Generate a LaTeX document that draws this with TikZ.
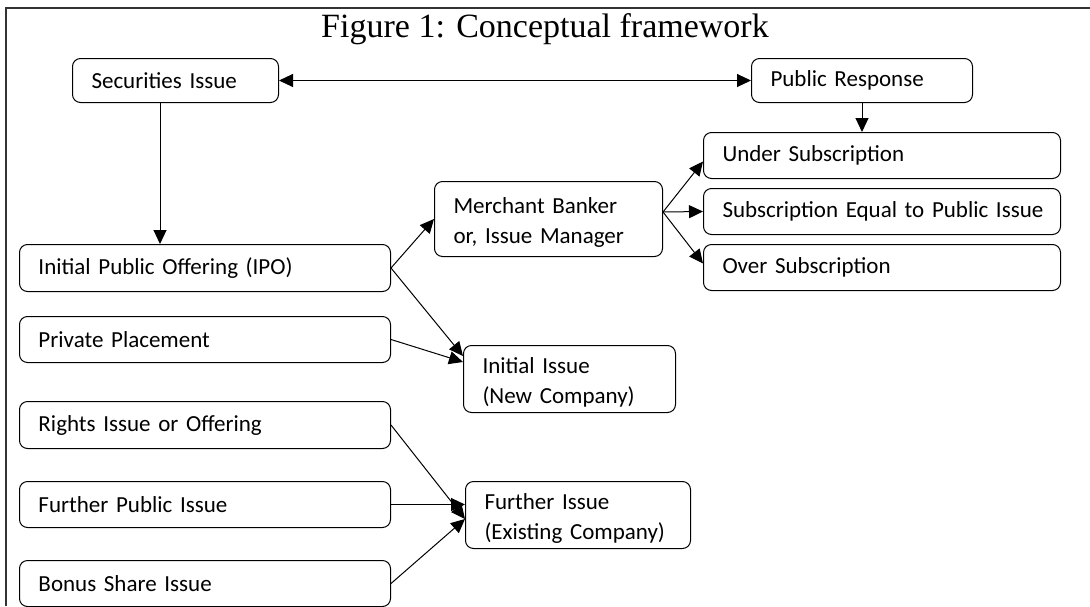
\documentclass[tikz,border=0pt]{standalone}
\usepackage{fontspec}
\setmainfont{Carlito}
\newfontfamily\titlefont{Liberation Serif}
\usetikzlibrary{arrows.meta}
\begin{document}
\begin{tikzpicture}[x=1pt,y=-1pt,
  box/.style={draw, line width=1pt, rounded corners=8pt, anchor=north west, align=left,
    inner xsep=0pt, inner ysep=0pt, font=\fontsize{23}{30}\selectfont},
  tip/.tip={Triangle[length=14pt,width=13pt]},
  arr/.style={line width=1pt, -tip},
  frameline/.style={line width=2pt, draw=black!80}]
\useasboundingbox (0,0) rectangle (1090,606);
\draw[frameline] (6,606) -- (6,8) -- (1090,8);
\node[font=\titlefont\fontsize{34}{38}\selectfont] (title) at (545,29) {Figure 1: Conceptual framework};
% boxes
\node[box, minimum width=206pt, minimum height=44pt, text width=206pt] (sec) at (72,58) {\hspace*{19pt}Securities Issue};
\node[box, minimum width=221pt, minimum height=44pt, text width=221pt] (pub) at (751,58) {\hspace*{19pt}Public Response};
\node[box, minimum width=357pt, minimum height=46pt, text width=357pt] (under) at (703,132) {\hspace*{19pt}Under Subscription};
\node[box, minimum width=357pt, minimum height=46pt, text width=357pt] (equal) at (703,188) {\hspace*{19pt}Subscription Equal to Public Issue};
\node[box, minimum width=357pt, minimum height=46pt, text width=357pt] (over) at (703,244) {\hspace*{19pt}Over Subscription};
\node[box, minimum width=228pt, minimum height=75pt, text width=228pt] (mb) at (434,181) {\rule{0pt}{23pt}\hspace*{19pt}Merchant Banker\\\hspace*{19pt}or, Issue Manager};
\node[box, minimum width=371pt, minimum height=47pt, text width=371pt] (ipo) at (19,244) {\hspace*{19pt}Initial Public Offering (IPO)};
\node[box, minimum width=371pt, minimum height=46pt, text width=371pt] (pp) at (19,316) {\hspace*{19pt}Private Placement};
\node[box, minimum width=212pt, minimum height=67pt, text width=212pt] (init) at (463,345) {\rule{0pt}{23pt}\hspace*{19pt}Initial Issue\\\hspace*{19pt}(New Company)};
\node[box, minimum width=371pt, minimum height=47pt, text width=371pt] (rights) at (19,401) {\hspace*{19pt}Rights Issue or Offering};
\node[box, minimum width=371pt, minimum height=46pt, text width=371pt] (fpi) at (19,481) {\hspace*{19pt}Further Public Issue};
\node[box, minimum width=371pt, minimum height=46pt, text width=371pt] (bonus) at (19,560) {\hspace*{19pt}Bonus Share Issue};
\node[box, minimum width=225pt, minimum height=67pt, text width=225pt] (fi) at (465,481) {\rule{0pt}{23pt}\hspace*{19pt}Further Issue\\\hspace*{19pt}(Existing Company)};
% connectors
\draw[line width=1pt, tip-tip] (sec.east) -- (pub.west);
\draw[arr] (sec.south -| 160,0) -- (ipo.north -| 160,0);
\draw[arr] (pub.south -| 862,0) -- (under.north -| 862,0);
\draw[arr] (ipo.east) -- (mb.west);
\draw[arr] (ipo.east) -- ([yshift=-11pt]init.north west);
\draw[arr] (pp.east) -- ([yshift=-17pt]init.north west);
\coordinate (mbo) at ([yshift=7pt]mb.east);
\draw[arr] (mbo) -- ([yshift=-6pt]under.west);
\draw[arr] (mbo) -- (equal.west);
\draw[arr] (mbo) -- ([yshift=4pt]over.west);
\coordinate (fin) at ([yshift=-4pt]fi.west);
\draw[arr] (rights.east) -- (fin);
\draw[arr] (fpi.east) -- (fin |- fpi.east);
\draw[arr] (bonus.east) -- (fin);
\end{tikzpicture}
\end{document}
